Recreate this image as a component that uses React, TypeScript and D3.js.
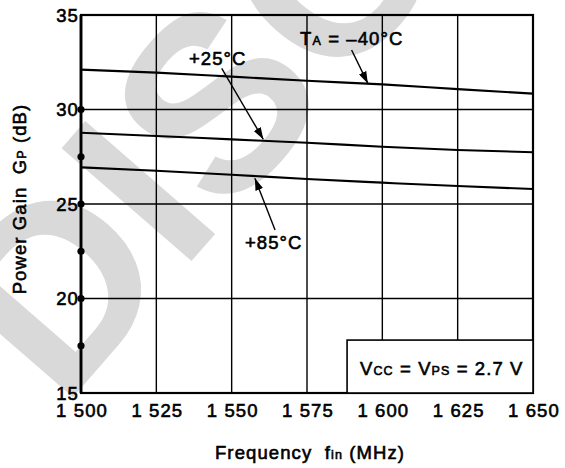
import React, { useEffect, useRef } from 'react';
import * as d3 from 'd3';

// values
const frequencies = [1500, 1525, 1550, 1575, 1600, 1625, 1650];
const gainMinus40 = [32.11, 31.95, 31.74, 31.52, 31.33, 31.08, 30.84];
const gainPlus25 = [28.77, 28.6, 28.42, 28.24, 28.03, 27.86, 27.74];
const gainPlus85 = [26.94, 26.76, 26.55, 26.32, 26.13, 25.95, 25.79];
const gainTicks = [15, 20, 25, 30, 35];
const gainDots = [17.5, 20, 22.5, 25, 27.5, 30];
const freqTickLabels = ['1 500', '1 525', '1 550', '1 575', '1 600', '1 625', '1 650'];

const FONT = "'Liberation Sans', Arial, Helvetica, sans-serif";

type Part = [string, boolean];

function addText(parent: any, px: number, py: number, parts: Part[], anchor = 'start') {
  const t = parent
    .append('text')
    .attr('x', px)
    .attr('y', py)
    .attr('text-anchor', anchor)
    .attr('font-family', FONT)
    .attr('font-size', 18.5)
    .attr('letter-spacing', 1.1)
    .attr('xml:space', 'preserve')
    .style('white-space', 'pre')
    .attr('fill', '#000')
    .attr('stroke', '#000')
    .attr('stroke-width', 0.6);
  parts.forEach(([s, sub]) => {
    t.append('tspan').attr('font-size', sub ? 12.5 : 18.5).text(s);
  });
  return t;
}

function drawChart(el: SVGSVGElement) {
  const svgWidth = 565;
  const svgHeight = 468;
  const margin = { top: 15, right: 32, bottom: 75, left: 81 };
  const width = svgWidth - margin.left - margin.right;
  const height = svgHeight - margin.top - margin.bottom;

  const svg = d3.select(el);
  svg.selectAll('*').remove();

  // watermark behind everything
  svg
    .append('text')
    .attr('transform', 'translate(62, 410) rotate(-49)')
    .attr('font-family', FONT)
    .attr('font-weight', 'bold')
    .attr('font-size', 250)
    .attr('fill', '#d9d9d9')
    .text('DISCON');

  svg
    .append('defs')
    .append('marker')
    .attr('id', 'arrow')
    .attr('viewBox', '0 0 12 8')
    .attr('refX', 12)
    .attr('refY', 4)
    .attr('markerWidth', 12)
    .attr('markerHeight', 8)
    .attr('markerUnits', 'userSpaceOnUse')
    .attr('orient', 'auto')
    .append('path')
    .attr('d', 'M0,0 L12,4 L0,8 Z')
    .attr('fill', '#000');

  const g = svg.append('g').attr('transform', `translate(${margin.left}, ${margin.top})`);

  const x = d3.scaleLinear().domain([1500, 1650]).range([0, width]);
  const y = d3.scaleLinear().domain([15, 35]).range([height, 0]);

  // grid
  g.selectAll('.vgrid')
    .data(frequencies.slice(1, -1))
    .enter()
    .append('line')
    .attr('x1', d => x(d))
    .attr('x2', d => x(d))
    .attr('y1', y(15))
    .attr('y2', y(35))
    .attr('stroke', '#000')
    .attr('stroke-width', 1.4);

  g.selectAll('.hgrid')
    .data(gainTicks.slice(1, -1))
    .enter()
    .append('line')
    .attr('x1', 0)
    .attr('x2', width)
    .attr('y1', d => y(d))
    .attr('y2', d => y(d))
    .attr('stroke', '#000')
    .attr('stroke-width', 1.4);

  // frame
  g.append('rect')
    .attr('x', 0)
    .attr('y', 0)
    .attr('width', width)
    .attr('height', height)
    .attr('fill', 'none')
    .attr('stroke', '#000')
    .attr('stroke-width', 2.2);

  g.append('line')
    .attr('x1', 0)
    .attr('x2', 0)
    .attr('y1', 0)
    .attr('y2', height)
    .attr('stroke', '#000')
    .attr('stroke-width', 2.8);

  g.selectAll('.dot')
    .data(gainDots)
    .enter()
    .append('circle')
    .attr('cx', 0)
    .attr('cy', d => y(d))
    .attr('r', 3.6)
    .attr('fill', '#000');

  // tick labels
  gainTicks.forEach(v => {
    addText(g, -2, y(v) + 6.5, [[String(v), false]], 'end');
  });
  frequencies.forEach((f, i) => {
    addText(g, x(f) + 1, height + 24, [[freqTickLabels[i], false]], 'middle');
  });

  // curves
  const line = d3
    .line<number>()
    .x((_, i) => x(frequencies[i]))
    .y(d => y(d))
    .curve(d3.curveMonotoneX);

  [gainMinus40, gainPlus25, gainPlus85].forEach(series => {
    g.append('path')
      .attr('d', line(series))
      .attr('fill', 'none')
      .attr('stroke', '#000')
      .attr('stroke-width', 2.1);
  });

  // conditions box
  g.append('rect')
    .attr('x', x(1588.3))
    .attr('y', y(17.8))
    .attr('width', x(1650) - x(1588.3))
    .attr('height', y(15) - y(17.8))
    .attr('fill', '#fff')
    .attr('stroke', '#000')
    .attr('stroke-width', 1.6);

  addText(g, x(1592.6), y(16.0) + 0.5, [
    ['V', false], ['CC', true], [' = V', false], ['PS', true], [' = 2.7 V', false]
  ]);

  // annotations
  const arrow = (f1: number, g1: number, f2: number, g2: number) => {
    g.append('line')
      .attr('x1', x(f1))
      .attr('y1', y(g1))
      .attr('x2', x(f2))
      .attr('y2', y(g2))
      .attr('stroke', '#000')
      .attr('stroke-width', 1.4)
      .attr('marker-end', 'url(#arrow)');
  };

  addText(g, x(1572.7), y(33.39), [['T', false], ['A', true], [' = \u201340\u00b0C', false]]);
  arrow(1589.8, 33.15, 1595.2, 31.38);

  addText(g, x(1535.8), y(32.35), [['+25\u00b0C', false]]);
  arrow(1546.7, 32.18, 1560.5, 28.42);

  addText(g, x(1554.4), y(22.62), [['+85\u00b0C', false]]);
  arrow(1564.4, 23.62, 1557.7, 26.36);

  // axis titles
  addText(svg, 310, 459, [['Frequency  f', false], ['in', true], [' (MHz)', false]], 'middle');

  addText(svg, 0, 0, [['Power Gain  G', false], ['P', true], [' (dB)', false]], 'middle')
    .attr('transform', 'translate(26, 199) rotate(-90)');
}

export default function App() {
  const ref = useRef<SVGSVGElement>(null);

  useEffect(() => {
    if (ref.current) drawChart(ref.current);
  }, []);

  return (
    <svg
      ref={ref}
      width={565}
      height={468}
      style={{ position: 'absolute', left: 0, top: 0, background: '#fff' }}
    />
  );
}
